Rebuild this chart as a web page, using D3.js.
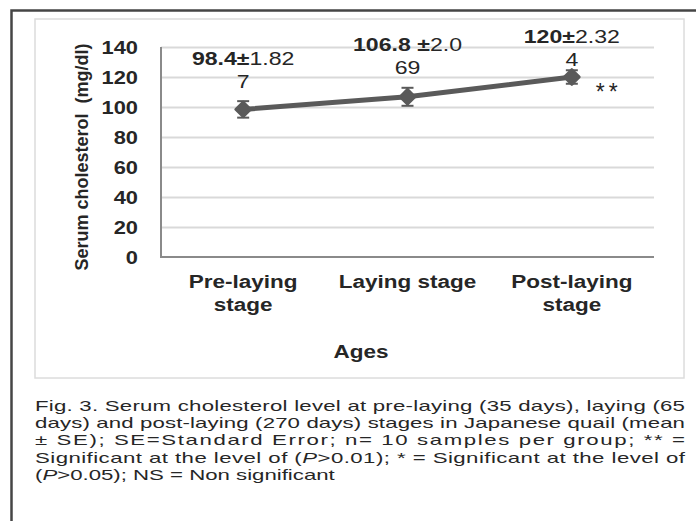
<!DOCTYPE html>
<html>
<head>
<meta charset="utf-8">
<script src="https://cdn.jsdelivr.net/npm/d3@7"></script>
<style>
body { margin: 0; background: #fff; }
text { font-family: "Liberation Sans", Arial, sans-serif; fill: #262626; white-space: pre; }
</style>
</head>
<body>
<script>
// values
const stages = ["Pre-laying stage", "Laying stage", "Post-laying stage"]
const stageLines = [["Pre-laying", "stage"], ["Laying stage"], ["Post-laying", "stage"]]
const means = [98.4, 106.8, 120]
const errBars = [5.5, 6, 4.5]
const meanText = ["98.4±", "106.8 ±", "120±"]
const seText = ["1.82", "2.0", "2.32"]
const seTail = ["7", "69", "4"]
const yTicks = [0, 20, 40, 60, 80, 100, 120, 140]
const signif = "**"
const yTitle = "Serum cholesterol  (mg/dl)"
const xTitle = "Ages"
// caption, [text, italic]
const caption = [
  [["Fig. 3. Serum cholesterol level at pre-laying (35 days), laying (65", false]],
  [["days) and post-laying (270 days) stages in Japanese quail (mean", false]],
  [["± SE); SE=Standard Error; n= 10 samples per group; ** =", false]],
  [["Significant at the level of (", false], ["P", true], [">0.01); * = Significant at the level of", false]],
  [["(", false], ["P", true], [">0.05); NS = Non significant", false]]
]

const W = 696, H = 521
const plot = {left: 161, right: 654, top: 47, bottom: 257}
const labelLift = [44, 46, 34]   // how far each data label sits above its point
const sx = 1.25                  // the figure is stretched sideways

const svg = d3.select("body").append("svg")
  .attr("width", W)
  .attr("height", H)

// frames
svg.append("path")
  .attr("d", `M11.5,${H} V10.5 H${W}`)
  .attr("fill", "none")
  .attr("stroke", "#454545")
  .attr("stroke-width", 2.5)

svg.append("rect")
  .attr("x", 35).attr("y", 19)
  .attr("width", 649).attr("height", 359)
  .attr("fill", "none")
  .attr("stroke", "#dcdcdc")
  .attr("stroke-width", 1.5)

let x = d3.scaleBand().domain(stages).range([plot.left, plot.right])
let cx = d => x(d) + x.bandwidth() / 2
let y = d3.scaleLinear().domain([0, 140]).range([plot.bottom, plot.top])

// grid
svg.append("g")
  .attr("transform", `translate(${plot.left},0)`)
  .call(d3.axisLeft(y).tickValues(yTicks.slice(1)).tickSize(-(plot.right - plot.left)).tickFormat(""))
  .call(g => g.select(".domain").remove())
  .call(g => g.selectAll("line").attr("stroke", "#d9d9d9").attr("stroke-width", 2))

// axis lines
svg.append("path")
  .attr("d", `M${plot.left},${y(140)} V${y(0)} H${plot.right}`)
  .attr("fill", "none")
  .attr("stroke", "#8a8a8a")
  .attr("stroke-width", 2)

// y tick labels
svg.append("g")
  .selectAll("text")
  .data(yTicks)
  .join("text")
    .attr("transform", d => `translate(138,${y(d) + 6.5}) scale(${sx},1)`)
    .attr("text-anchor", "end")
    .attr("font-size", 17.5)
    .attr("font-weight", "bold")
    .text(d => d)

// y title
svg.append("text")
  .attr("transform", "translate(88,157) rotate(-90)")
  .attr("text-anchor", "middle")
  .attr("font-size", 18)
  .attr("font-weight", "bold")
  .text(yTitle)

// category labels
stageLines.forEach((lines, i) => {
  lines.forEach((t, j) => {
    svg.append("text")
      .attr("transform", `translate(${cx(stages[i])},${288 + j * 23}) scale(${sx},1)`)
      .attr("text-anchor", "middle")
      .attr("font-size", 18)
      .attr("font-weight", "bold")
      .text(t)
  })
})

svg.append("text")
  .attr("transform", `translate(361,358) scale(${sx},1)`)
  .attr("text-anchor", "middle")
  .attr("font-size", 18)
  .attr("font-weight", "bold")
  .text(xTitle)

// series
const pts = stages.map((s, i) => ({stage: s, v: means[i], e: errBars[i], i: i}))

svg.append("path")
  .datum(pts)
  .attr("fill", "none")
  .attr("stroke", "#5a5a5a")
  .attr("stroke-width", 5)
  .attr("d", d3.line().x(d => cx(d.stage)).y(d => y(d.v)))

let eb = svg.append("g")
  .attr("stroke", "#5a5a5a")
  .attr("stroke-width", 2)
  .selectAll("g")
  .data(pts)
  .join("g")
eb.append("line")
  .attr("x1", d => cx(d.stage)).attr("x2", d => cx(d.stage))
  .attr("y1", d => y(d.v - d.e)).attr("y2", d => y(d.v + d.e))
eb.selectAll("line.cap")
  .data(d => [d.v - d.e, d.v + d.e].map(v => ({stage: d.stage, v: v})))
  .join("line")
    .attr("class", "cap")
    .attr("x1", d => cx(d.stage) - 6).attr("x2", d => cx(d.stage) + 6)
    .attr("y1", d => y(d.v)).attr("y2", d => y(d.v))

svg.append("g")
  .selectAll("path")
  .data(pts)
  .join("path")
    .attr("transform", d => `translate(${cx(d.stage)},${y(d.v)}) rotate(45)`)
    .attr("d", d3.symbol(d3.symbolSquare, 115))
    .attr("fill", "#5a5a5a")
    .attr("stroke", "#5a5a5a")
    .attr("stroke-width", 2.5)
    .attr("stroke-linejoin", "round")

// data labels
pts.forEach(d => {
  let t = svg.append("text")
    .attr("transform", `translate(${cx(d.stage)},${y(d.v) - labelLift[d.i]}) scale(1.32,1)`)
    .attr("text-anchor", "middle")
    .attr("font-size", 17.5)
  t.append("tspan").attr("font-weight", "bold").text(meanText[d.i])
  t.append("tspan").text(seText[d.i])
  svg.append("text")
    .attr("transform", `translate(${cx(d.stage)},${y(d.v) - labelLift[d.i] + 23}) scale(1.32,1)`)
    .attr("text-anchor", "middle")
    .attr("font-size", 17.5)
    .text(seTail[d.i])
})

svg.append("text")
  .attr("x", cx(stages[2]) + 24)
  .attr("y", y(120) + 23)
  .attr("font-size", 23)
  .attr("letter-spacing", 4)
  .text(signif)

// caption
const cs = 1.48
caption.forEach((line, i) => {
  let t = svg.append("text")
    .attr("transform", `translate(35,${411 + i * 17.2}) scale(${cs},1)`)
    .attr("font-size", 15)
    .attr("fill", "#1e1e1e")
  if (i < caption.length - 1) {
    t.attr("textLength", 650 / cs).attr("lengthAdjust", "spacing")
  }
  line.forEach(([s, it]) => {
    t.append("tspan").attr("font-style", it ? "italic" : "normal").text(s)
  })
})
</script>
</body>
</html>
